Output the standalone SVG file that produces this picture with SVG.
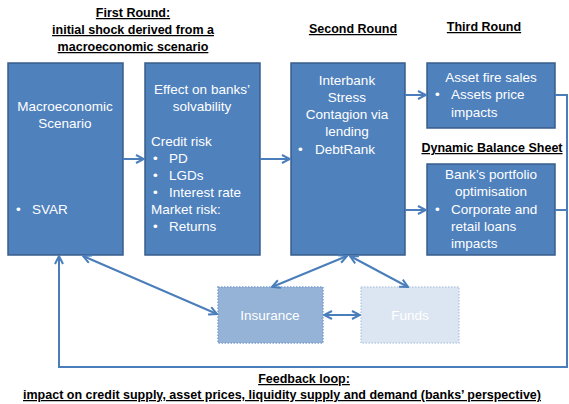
<svg xmlns="http://www.w3.org/2000/svg" width="569" height="404" viewBox="0 0 569 404">
<defs>
<style>
.box{fill:#4F81BD;stroke:#385D8A;stroke-width:1.5}
.t{font-family:"Liberation Sans",Arial,sans-serif;font-size:13.5px;fill:#FFFFFF}
.c{text-anchor:middle}
.h{font-family:"Liberation Sans",Arial,sans-serif;font-size:12.5px;font-weight:bold;fill:#000000;text-anchor:middle;text-decoration:underline}
.ln{fill:none;stroke:#4A7EBB;stroke-width:2}
</style>
<marker id="ah" viewBox="0 0 10 10" refX="9" refY="5" markerWidth="10" markerHeight="10" markerUnits="userSpaceOnUse" orient="auto-start-reverse">
<path d="M1,1 L9,5 L1,9" fill="none" stroke="#4A7EBB" stroke-width="2"/>
</marker>
</defs>
<rect width="569" height="404" fill="#FFFFFF"/>

<g id="titles">
<text class="h" x="133" y="17">First Round:</text>
<text class="h" x="133" y="34">initial shock derived from a</text>
<text class="h" x="133" y="51">macroeconomic scenario</text>
<text class="h" x="353" y="33">Second Round</text>
<text class="h" x="484" y="31">Third Round</text>
<text class="h" x="492" y="152">Dynamic Balance Sheet</text>
<text class="h" x="304" y="383">Feedback loop:</text>
<text class="h" x="282" y="399">impact on credit supply, asset prices, liquidity supply and demand (banks’ perspective)</text>
</g>

<g id="macro">
<rect class="box" x="8" y="63" width="115" height="192"/>
<text class="t c" x="65" y="111">Macroeconomic</text>
<text class="t c" x="65" y="128">Scenario</text>
<text class="t" x="16" y="214">•</text>
<text class="t" x="32" y="214">SVAR</text>
</g>

<g id="effect">
<rect class="box" x="145" y="63" width="115" height="192"/>
<text class="t c" x="202" y="94">Effect on banks’</text>
<text class="t c" x="202" y="111">solvability</text>
<text class="t" x="151" y="146">Credit risk</text>
<text class="t" x="153" y="163">•</text><text class="t" x="169" y="163">PD</text>
<text class="t" x="153" y="180">•</text><text class="t" x="169" y="180">LGDs</text>
<text class="t" x="153" y="197">•</text><text class="t" x="169" y="197">Interest rate</text>
<text class="t" x="151" y="214">Market risk:</text>
<text class="t" x="153" y="231">•</text><text class="t" x="169" y="231">Returns</text>
</g>

<g id="interbank">
<rect class="box" x="291" y="63" width="114" height="192"/>
<text class="t c" x="347" y="85">Interbank</text>
<text class="t c" x="347" y="102">Stress</text>
<text class="t c" x="347" y="119">Contagion via</text>
<text class="t c" x="347" y="136">lending</text>
<text class="t" x="298" y="154">•</text><text class="t" x="315" y="154">DebtRank</text>
</g>

<g id="firesales">
<rect class="box" x="427" y="63" width="128" height="65"/>
<text class="t c" x="491" y="82">Asset fire sales</text>
<text class="t" x="435" y="99">•</text><text class="t" x="451" y="99">Assets price</text>
<text class="t" x="451" y="117">impacts</text>
</g>

<g id="portfolio">
<rect class="box" x="427" y="164" width="128" height="91"/>
<text class="t c" x="491" y="179">Bank’s portfolio</text>
<text class="t c" x="491" y="196">optimisation</text>
<text class="t" x="435" y="214">•</text><text class="t" x="451" y="214">Corporate and</text>
<text class="t" x="451" y="231">retail loans</text>
<text class="t" x="451" y="248">impacts</text>
</g>

<g id="insurance">
<rect x="218" y="287" width="105" height="56" fill="#95B3D7" stroke="#7EA0CF" stroke-width="1.5" stroke-dasharray="1.5,1.5"/>
<text class="t c" x="270" y="320">Insurance</text>
</g>

<g id="funds">
<rect x="361" y="287" width="98" height="56" fill="#DCE6F2" stroke="#B9CDE5" stroke-width="1.5" stroke-dasharray="1.5,1.5"/>
<text class="t c" x="410" y="320">Funds</text>
</g>

<g id="connectors">
<line class="ln" x1="123" y1="159" x2="144" y2="159" marker-end="url(#ah)"/>
<line class="ln" x1="260" y1="159" x2="290" y2="159" marker-end="url(#ah)"/>
<line class="ln" x1="405" y1="95" x2="426" y2="95" marker-end="url(#ah)"/>
<line class="ln" x1="405" y1="210" x2="426" y2="210" marker-end="url(#ah)"/>
<line class="ln" x1="83" y1="256" x2="217" y2="314" marker-start="url(#ah)" marker-end="url(#ah)"/>
<line class="ln" x1="347" y1="256" x2="272" y2="287" marker-start="url(#ah)" marker-end="url(#ah)"/>
<line class="ln" x1="350" y1="256" x2="408" y2="287" marker-start="url(#ah)" marker-end="url(#ah)"/>
<line class="ln" x1="324" y1="315" x2="360" y2="315" marker-start="url(#ah)" marker-end="url(#ah)"/>
<polyline class="ln" points="555,95 567,95 567,367 59,367 59,256" marker-end="url(#ah)"/>
<line class="ln" x1="555" y1="210" x2="567" y2="210"/>
</g>
</svg>
